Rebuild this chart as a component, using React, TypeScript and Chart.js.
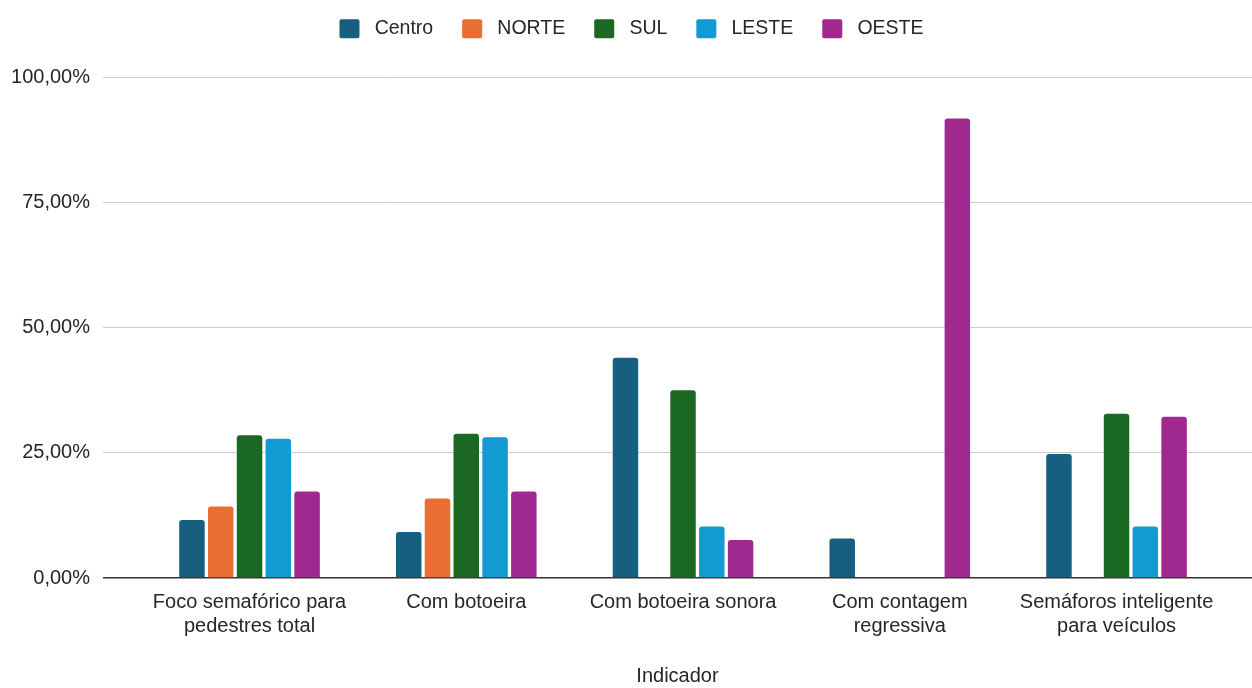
import React, { useEffect, useRef } from "react";
import { Chart, registerables } from "chart.js";

Chart.register(...registerables);

// Indicators shown along the horizontal axis (one entry per line of the label)
const categories: string[][] = [
  ["Foco semafórico para", "pedestres total"],
  ["Com botoeira"],
  ["Com botoeira sonora"],
  ["Com contagem", "regressiva"],
  ["Semáforos inteligente", "para veículos"],
];

// Share per region, in percent
const centro = [11.6, 9.2, 44.0, 7.9, 24.8];
const norte = [14.3, 15.9, 0, 0, 0];
const sul = [28.5, 28.8, 37.5, 0, 32.8];
const leste = [27.8, 28.1, 10.3, 0, 10.3];
const oeste = [17.3, 17.3, 7.6, 91.8, 32.2];

const seriesNames = ["Centro", "NORTE", "SUL", "LESTE", "OESTE"];
const seriesValues = [centro, norte, sul, leste, oeste];
const seriesColors = ["#175f80", "#e86e34", "#1b6822", "#129ad3", "#a0298f"];

const yTicks = [0, 25, 50, 75, 100];

const FONT = '"Liberation Sans", Arial, sans-serif';
const TEXT = "#262626";

const formatPercent = (v: number) => v.toFixed(2).replace(".", ",") + "%";

// Adds room between the legend and the plot area
const legendGap = {
  id: "legendGap",
  beforeLayout(chart: any) {
    const legend = chart.legend;
    if (legend && !legend.__gapPatched) {
      const fit = legend.fit;
      legend.fit = function () {
        fit.call(this);
        this.height += 29;
      };
      legend.__gapPatched = true;
    }
  },
};

export default function App() {
  const canvasRef = useRef<HTMLCanvasElement | null>(null);

  useEffect(() => {
    document.body.style.margin = "0";
    const canvas = canvasRef.current;
    if (!canvas) return;

    const chart = new Chart(canvas, {
      type: "bar",
      data: {
        labels: categories.map((_, i) => i),
        datasets: seriesNames.map((name, s) => ({
          label: name,
          data: seriesValues[s],
          backgroundColor: seriesColors[s],
          borderWidth: 0,
          borderRadius: 3,
          borderSkipped: "bottom" as const,
          categoryPercentage: 0.664,
          barPercentage: 0.885,
        })),
      },
      options: {
        animation: false,
        responsive: true,
        maintainAspectRatio: false,
        layout: { padding: { top: -10, left: 11, right: 0, bottom: 0 } },
        plugins: {
          tooltip: { enabled: false },
          legend: {
            position: "top",
            labels: {
              boxWidth: 20,
              boxHeight: 19,
              padding: 29,
              useBorderRadius: true,
              borderRadius: 2,
              color: TEXT,
              font: { family: FONT, size: 19.5 },
              generateLabels: (c: any) =>
                Chart.defaults.plugins.legend.labels
                  .generateLabels(c)
                  .map((item: any) => ({ ...item, text: " " + item.text })),
            },
          },
        },
        scales: {
          x: {
            type: "linear",
            offset: false,
            min: -0.676,
            max: 4.625,
            afterBuildTicks: (scale: any) => {
              scale.ticks = categories.map((_, i) => ({ value: i }));
            },
            afterFit: (scale: any) => {
              scale.paddingLeft = 0;
              scale.paddingRight = 0;
            },
            grid: { display: false, drawTicks: false, offset: false },
            border: { display: false },
            ticks: {
              autoSkip: false,
              maxRotation: 0,
              padding: 12,
              color: TEXT,
              font: { family: FONT, size: 20 },
              callback: (value: any) => categories[Math.round(Number(value))] ?? "",
            },
            title: {
              display: true,
              text: "Indicador",
              color: TEXT,
              font: { family: FONT, size: 20 },
              padding: { top: 14, bottom: 0 },
            },
          },
          y: {
            min: 0,
            max: 100,
            afterBuildTicks: (scale: any) => {
              scale.ticks = yTicks.map((v) => ({ value: v }));
            },
            afterFit: (scale: any) => {
              scale.width = 92;
            },
            grid: {
              drawTicks: false,
              color: (ctx: any) => (ctx.tick && ctx.tick.value === 0 ? "#333333" : "#cccccc"),
              lineWidth: (ctx: any) => (ctx.tick && ctx.tick.value === 0 ? 1.6 : 1),
            },
            border: { display: false },
            ticks: {
              padding: 13,
              color: TEXT,
              font: { family: FONT, size: 20 },
              callback: (value: any) => formatPercent(Number(value)),
            },
          },
        },
      },
      plugins: [legendGap],
    });

    return () => chart.destroy();
  }, []);

  return (
    <div style={{ position: "relative", width: 1252, height: 688, background: "#ffffff" }}>
      <canvas ref={canvasRef} />
    </div>
  );
}
